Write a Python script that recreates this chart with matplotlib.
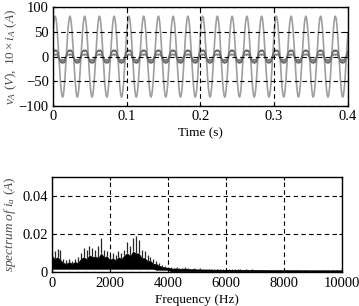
import numpy as np
import matplotlib
matplotlib.use("Agg")
import matplotlib.pyplot as plt

plt.rcParams['font.family'] = ['Liberation Serif', 'DejaVu Serif']
plt.rcParams['mathtext.fontset'] = 'custom'
plt.rcParams['mathtext.rm'] = 'Liberation Serif'
plt.rcParams['mathtext.it'] = 'Liberation Serif:italic'

# ---- top panel data: one measured period (20 ms, 1 ms steps), repeated over 0.4 s ----
period_s = 0.02
n_periods = 20
v_period = [48, 66, 78, 82, 78, 66, 48, 25, 0, -25, -48, -66, -78, -82, -78, -66, -48, -25, 0, 25]
i10_period = [10, 12, 13, 11, 13, 12, 10, 4, -2, -7, -10, -12, -11, -13, -11, -12, -10, -4, 2, 7]
i10b_period = [3, 4, 5, 3, 5, 4, 3, 1, -2, -4, -6, -7, -6, -8, -6, -7, -5, -2, 0, 2]

# ---- bottom panel data: spectrum envelope, 100 Hz steps 0..10000 Hz (values in mA) ----
spec_high_mA = [12, 11, 12.5, 12, 7, 6.5, 7, 6, 7, 8,
                10, 13, 12, 14, 13, 12, 14, 18, 12, 11,
                9, 10, 9, 11, 10, 12, 16, 14, 18, 19,
                17, 12, 11, 9, 8, 7, 6, 5, 4, 3.5,
                3, 3, 2.5, 3, 2.5, 2.5, 3, 2.5, 2, 2.2,
                2, 2.2, 1.8, 2, 1.9, 2, 1.8, 1.9, 1.7, 1.8,
                1.7, 1.8, 1.6, 1.7, 1.6, 1.7, 1.5, 1.6, 1.5, 1.6,
                1.5, 1.5, 1.4, 1.5, 1.4, 1.5, 1.4, 1.4, 1.3, 1.4,
                1.3, 1.4, 1.3, 1.3, 1.2, 1.3, 1.2, 1.3, 1.2, 1.2,
                1.2, 1.2, 1.1, 1.2, 1.1, 1.2, 1.1, 1.1, 1.1, 1.1, 1.1]
spec_mid_mA = [9, 7, 8, 6.5, 5, 4.5, 5.5, 4.5, 5.5, 5,
               7, 8, 7, 9, 8, 8.5, 7.5, 10, 8, 8.5,
               6.5, 7.5, 6.5, 8, 7, 9, 10, 8.5, 11, 10,
               10, 7.5, 7.5, 6, 6, 4.5, 4.5, 3.5, 3, 2.6,
               2.5, 2.2, 2, 2.2, 1.9, 2, 2.1, 1.8, 1.7, 1.8,
               1.6, 1.7, 1.5, 1.6, 1.5, 1.5, 1.4, 1.5, 1.4, 1.4,
               1.3, 1.4, 1.3, 1.3, 1.3, 1.3, 1.2, 1.3, 1.2, 1.2,
               1.2, 1.2, 1.1, 1.2, 1.1, 1.1, 1.1, 1.1, 1.0, 1.1,
               1.0, 1.1, 1.0, 1.0, 1.0, 1.0, 0.9, 1.0, 0.9, 0.9,
               0.9, 0.9, 0.9, 0.9, 0.9, 0.9, 0.8, 0.8, 0.8, 0.8, 0.8]
spec_low_mA = [2.0] * 36 + [1.5] * 5 + [0.8] * 60

x_ticks_top = [0, 0.1, 0.2, 0.3, 0.4]
y_ticks_top = [-100, -50, 0, 50, 100]
x_ticks_bot = [0, 2000, 4000, 6000, 8000, 10000]
y_ticks_bot = [0, 0.02, 0.04]

# build series
t = np.arange(n_periods * len(v_period)) * (period_s / len(v_period))
t = np.append(t, 0.4)
v = np.append(np.tile(v_period, n_periods), v_period[0])
i10 = np.append(np.tile(i10_period, n_periods), i10_period[0])
i10b = np.append(np.tile(i10b_period, n_periods), i10b_period[0])

freq = np.arange(len(spec_high_mA)) * 100.0
s_hi = np.array(spec_high_mA) / 1000.0
s_mid = np.array(spec_mid_mA) / 1000.0
s_lo = np.array(spec_low_mA) / 1000.0

fig = plt.figure(figsize=(3.59, 3.06), dpi=100)
ax1 = fig.add_axes([0.1476, 0.6536, 0.8214, 0.3226])
ax2 = fig.add_axes([0.144, 0.1095, 0.809, 0.3121])

grid_kw = dict(color='black', linestyle=(0, (4, 3)), linewidth=0.8)

# top
ax1.plot(t, v, color='0.62', lw=1.2, zorder=2)
ax1.plot(t, i10b, color='0.5', lw=1.1, zorder=2)
ax1.plot(t, i10, color='0.42', lw=1.2, zorder=2)
ax1.set_xlim(0, 0.4)
ax1.set_ylim(-100, 100)
ax1.set_xticks(x_ticks_top)
ax1.set_xticklabels(['0', '0.1', '0.2', '0.3', '0.4'])
ax1.set_yticks(y_ticks_top)
ax1.grid(True, **grid_kw)
ax1.set_xlabel('Time (s)', fontsize=9.5, labelpad=3)
ax1.set_ylabel(r'$v_A\ (V),\ 10\times i_A\ (A)$', fontsize=9.5, labelpad=0, color='0.3')

# bottom
ax2.fill_between(freq, s_lo, s_mid, color='black', lw=0.5, zorder=2)
ax2.vlines(freq, s_mid, s_hi, color='0.15', lw=0.9, zorder=2)
ax2.plot(freq, s_lo, color='black', lw=0.8, zorder=2)
ax2.set_xlim(0, 10000)
ax2.set_ylim(0, 0.05)
ax2.set_xticks(x_ticks_bot)
ax2.set_yticks(y_ticks_bot)
ax2.set_yticklabels(['0', '0.02', '0.04'])
ax2.grid(True, **grid_kw)
ax2.set_xlabel('Frequency (Hz)', fontsize=9.5, labelpad=3)
ax2.set_ylabel(r'$spectrum\ of\ i_a\ (A)$', fontsize=9.5, labelpad=3, color='0.3')

for ax in (ax1, ax2):
    ax.tick_params(direction='in', length=2, labelsize=10.5, top=True, right=True, pad=3)
    for sp in ax.spines.values():
        sp.set_linewidth(1.0)
        sp.set_zorder(4)
    ax.set_axisbelow(False)

fig.savefig('out.png', dpi=100)
